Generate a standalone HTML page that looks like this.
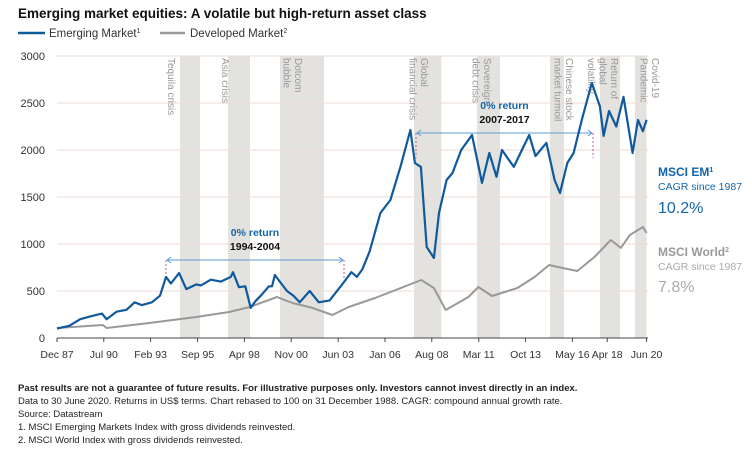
<!DOCTYPE html>
<html><head><meta charset="utf-8"><style>
body{margin:0;background:#fff;}
svg{display:block;font-family:"Liberation Sans",sans-serif;}
</style></head><body>
<svg id="chart" width="752" height="455" viewBox="0 0 752 455">
<text x="18" y="18" font-size="13.5" font-weight="bold" fill="#111">Emerging market equities: A volatile but high-return asset class</text>
<g>
<line x1="18" y1="33" x2="45" y2="33" stroke="#0f5a9c" stroke-width="2.5"/>
<text x="49" y="37" font-size="11.5" fill="#333">Emerging Market<tspan font-size="7" dy="-4">1</tspan></text>
<line x1="160" y1="33" x2="185" y2="33" stroke="#999" stroke-width="2.5"/>
<text x="190" y="37" font-size="11.5" fill="#333">Developed Market<tspan font-size="7" dy="-4">2</tspan></text>
</g>
<g id="bands"></g><g id="grid"></g><g id="axes"></g><g id="annot"></g><g id="series"></g>
<g>
<text x="658" y="176" font-size="12" font-weight="bold" fill="#1565a8">MSCI EM<tspan font-size="7" dy="-4">1</tspan></text>
<text x="658" y="190" font-size="10.5" fill="#1565a8">CAGR since 1987</text>
<text x="658" y="213" font-size="16" fill="#1565a8">10.2%</text>
</g>
<g>
<text x="658" y="256" font-size="12" font-weight="bold" fill="#999">MSCI World<tspan font-size="7" dy="-4">2</tspan></text>
<text x="658" y="270" font-size="10.5" fill="#aaa">CAGR since 1987</text>
<text x="658" y="292" font-size="16" fill="#aaa">7.8%</text>
</g>
<g font-size="9.5" fill="#222">
<text x="18" y="391" font-weight="bold">Past results are not a guarantee of future results. For illustrative purposes only. Investors cannot invest directly in an index.</text>
<text x="18" y="404">Data to 30 June 2020. Returns in US$ terms. Chart rebased to 100 on 31 December 1988. CAGR: compound annual growth rate.</text>
<text x="18" y="417">Source: Datastream</text>
<text x="18" y="430">1. MSCI Emerging Markets Index with gross dividends reinvested.</text>
<text x="18" y="443">2. MSCI World Index with gross dividends reinvested.</text>
</g>
</svg>
<script>
const yTicks=[0,500,1000,1500,2000,2500,3000];
const xTickDates=[1987.92,1990.5,1993.08,1995.67,1998.25,2000.83,2003.42,2006.0,2008.58,2011.17,2013.75,2016.33,2018.25,2020.42];
const xTickLabels=["Dec 87","Jul 90","Feb 93","Sep 95","Apr 98","Nov 00","Jun 03","Jan 06","Aug 08","Mar 11","Oct 13","May 16","Apr 18","Jun 20"];
const emDates=[1987.92,1988.6,1989.2,1989.75,1990.4,1990.65,1991.2,1991.75,1992.2,1992.6,1993.15,1993.6,1993.93,1994.2,1994.65,1995.05,1995.6,1995.85,1996.4,1996.95,1997.5,1997.62,1997.95,1998.3,1998.6,1998.85,1999.2,1999.6,1999.77,1999.93,2000.2,2000.6,2000.95,2001.3,2001.85,2002.35,2002.95,2003.6,2004.15,2004.45,2004.75,2005.15,2005.75,2006.3,2006.85,2007.4,2007.65,2007.98,2008.3,2008.7,2008.98,2009.4,2009.72,2010.2,2010.8,2011.35,2011.75,2012.15,2012.45,2013.1,2013.55,2013.95,2014.3,2014.9,2015.35,2015.65,2016.05,2016.4,2016.85,2017.4,2017.85,2018.05,2018.35,2018.75,2019.15,2019.65,2019.95,2020.22,2020.42];
const emValues=[100,130,200,230,260,200,280,300,380,350,380,450,650,580,690,520,570,560,620,600,650,700,540,550,320,390,460,550,550,670,600,500,450,380,500,380,400,560,700,650,730,920,1330,1468,1820,2213,1862,1820,968,851,1330,1681,1755,2000,2160,1650,1968,1715,2000,1820,2000,2160,1936,2075,1681,1543,1862,1968,2320,2713,2464,2150,2415,2250,2565,1968,2320,2200,2320];
const dmDates=[1987.92,1990.45,1990.65,1993.0,1995.6,1997.4,1998.55,2000.05,2000.9,2002.0,2003.1,2004.0,2005.45,2008.0,2008.7,2009.35,2010.6,2011.15,2011.9,2013.3,2014.25,2015.05,2015.5,2016.6,2017.55,2018.45,2019.0,2019.5,2020.22,2020.42];
const dmValues=[106,138,106,160,223,277,330,436,372,320,245,330,426,617,532,298,436,543,447,532,649,777,756,713,862,1043,958,1096,1181,1117];
const bandStarts=[1994.70,1997.35,2000.21,2007.6,2011.07,2015.1,2017.85,2019.78];
const bandEnds=[1995.80,1998.56,2002.64,2009.1,2012.34,2015.87,2018.96,2020.42];
const X0=57,Y0=338;
const x=d=>X0+(d-1987.92)*18.14;
const y=v=>Y0-v*0.094;
const NS="http://www.w3.org/2000/svg";
function mk(tag,parent,attrs){const e=document.createElementNS(NS,tag);for(const k in attrs)e.setAttribute(k,attrs[k]);document.getElementById(parent).appendChild(e);return e;}
bandStarts.forEach((s,i)=>{const r=mk('rect','bands',{x:x(s),y:y(3000),width:x(bandEnds[i])-x(s),height:Y0-y(3000),fill:'#e3e2de'});

});
yTicks.forEach(v=>{if(v>0){const l=mk('line','grid',{x1:X0,x2:648,y1:y(v),y2:y(v),stroke:'#ecd9d5','stroke-width':1});

}
const t=mk('text','axes',{x:X0-12,y:y(v)+4,'font-size':11,fill:'#333','text-anchor':'end'});t.textContent=v;

});
const ax=mk('line','axes',{x1:X0,x2:648,y1:Y0,y2:Y0,stroke:'#444','stroke-width':1});


xTickDates.forEach((d,i)=>{const tk=mk('line','axes',{x1:x(d),x2:x(d),y1:Y0,y2:Y0+4,stroke:'#444'});


const t=mk('text','axes',{x:x(d),y:Y0+20,'font-size':10.5,fill:'#333','text-anchor':'middle'});t.textContent=xTickLabels[i];

});
const crisisLabels=[[173,["Tequila crisis"]],[227,["Asia crisis"]],[300,["Dotcom","bubble"]],[426,["Global","financial crisis"]],[489,["Sovereign","debt crisis"]],[571,["Chinese stock","market turmoil"]],[616,["Return of","global","volatility"]],[657,["Covid-19","Pandemic"]]];
crisisLabels.forEach(([cx,lines])=>{lines.forEach((s,j)=>{const t=mk('text','annot',{x:0,y:0,'font-size':10,fill:'#999',transform:`translate(${cx-j*11.5-5},58) rotate(90)`});t.textContent=s;

});});
function span(x1,x2,ay,yl,t1,t2,name){
const g=mk('g','annot',{});


[[x1],[x2]].forEach(([xx])=>{const l=document.createElementNS(NS,'line');[['x1',xx],['x2',xx],['y1',ay],['y2',yl],['stroke','#c060a0'],['stroke-dasharray','2,2']].forEach(a=>l.setAttribute(a[0],a[1]));g.appendChild(l);});
const l=document.createElementNS(NS,'line');[['x1',x1+2],['x2',x2-2],['y1',ay],['y2',ay],['stroke','#5b9bd0'],['stroke-width',1]].forEach(a=>l.setAttribute(a[0],a[1]));g.appendChild(l);
[[x1,1],[x2,-1]].forEach(([xx,s])=>{const p=document.createElementNS(NS,'path');p.setAttribute('d',`M${xx+s*5},${ay-3} L${xx+s*1},${ay} L${xx+s*5},${ay+3}`);p.setAttribute('stroke','#5b9bd0');p.setAttribute('fill','none');g.appendChild(p);});
const cx=(x1+x2)/2;
const a=document.createElementNS(NS,'text');a.setAttribute('x',cx);a.setAttribute('y',ay-24);a.setAttribute('font-size',10.5);a.setAttribute('font-weight','bold');a.setAttribute('fill','#1565a8');a.setAttribute('text-anchor','middle');a.textContent=t1;g.appendChild(a);
const b=document.createElementNS(NS,'text');b.setAttribute('x',cx);b.setAttribute('y',ay-10);b.setAttribute('font-size',10.5);b.setAttribute('font-weight','bold');b.setAttribute('fill','#111');b.setAttribute('text-anchor','middle');b.textContent=t2;g.appendChild(b);}
span(166,344,260,280,"0% return","1994-2004","zero-return-1994-2004");
span(416,593,133,158,"0% return","2007-2017","zero-return-2007-2017");
function path(ds,vs){return ds.map((d,i)=>(i?'L':'M')+x(d).toFixed(1)+','+y(vs[i]).toFixed(1)).join(' ');}
const dm=mk('path','series',{d:path(dmDates,dmValues),fill:'none',stroke:'#999','stroke-width':2,'stroke-linejoin':'round'});


const em=mk('path','series',{d:path(emDates,emValues),fill:'none',stroke:'#0f5a9c','stroke-width':2.2,'stroke-linejoin':'round'});


</script>
</body></html>
